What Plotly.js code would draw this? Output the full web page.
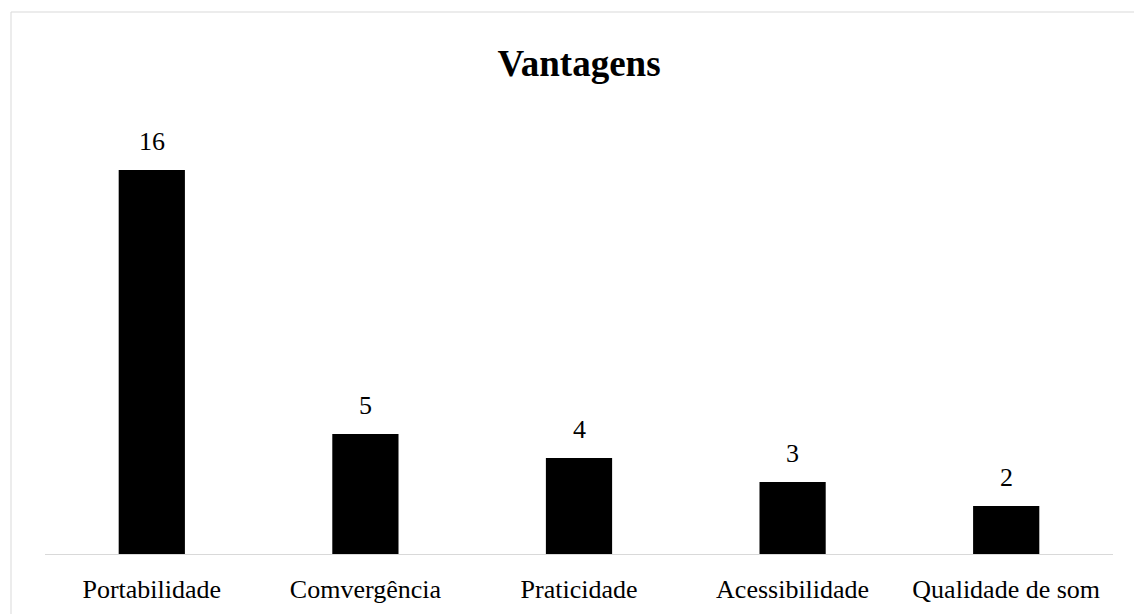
<!DOCTYPE html>
<html>
<head>
<meta charset="utf-8">
<script src="https://cdn.plot.ly/plotly-3.0.1.min.js"></script>
<style>
html,body{margin:0;padding:0;background:#fff;}
#chart{width:1134px;height:614px;}
</style>
</head>
<body>
<div id="chart"></div>
<script>
const categories = ["Portabilidade", "Comvergência", "Praticidade", "Acessibilidade", "Qualidade de som"];
const values = [16, 5, 4, 3, 2];
const chartTitle = "Vantagens";

const serif = "'Liberation Serif', 'Times New Roman', Times, serif";

const trace = {
  type: "bar",
  x: categories,
  y: values,
  marker: {color: "#000000", line: {width: 0}},
  hoverinfo: "skip"
};

const annotations = categories.map((c, i) => ({
  x: c, y: values[i], xref: "x", yref: "y",
  text: String(values[i]),
  showarrow: false,
  yanchor: "bottom",
  yshift: 12,
  font: {family: serif, size: 26, color: "#000"}
}));

const L = 45, R = 21, T = 122, B = 60, W = 1134, H = 614;
const pw = W - L - R, ph = H - T - B;

const layout = {
  width: W, height: H,
  margin: {l: L, r: R, t: T, b: B, pad: 0},
  paper_bgcolor: "#ffffff",
  plot_bgcolor: "#ffffff",
  showlegend: false,
  bargap: 0.69,
  title: {
    text: "<b>" + chartTitle + "</b>",
    font: {family: serif, size: 37, color: "#000"},
    x: 579 / W, xref: "container", xanchor: "center",
    y: 1 - 63 / H, yref: "container", yanchor: "middle"
  },
  xaxis: {
    type: "category",
    showgrid: false,
    showline: true, linecolor: "#d9d9d9", linewidth: 1,
    ticks: "", ticklabelstandoff: 12,
    tickfont: {family: serif, size: 26, color: "#000"},
    zeroline: false, fixedrange: true
  },
  yaxis: {
    range: [0, 18],
    visible: false,
    showgrid: false, zeroline: false, fixedrange: true
  },
  annotations: annotations,
  shapes: [{
    type: "rect", xref: "paper", yref: "paper",
    x0: (11 - L) / pw, x1: (W + 20 - L) / pw,
    y0: (H - B - (H + 20)) / ph, y1: (H - B - 12) / ph,
    line: {color: "#d9d9d9", width: 1},
    fillcolor: "rgba(0,0,0,0)",
    layer: "below"
  }]
};

Plotly.newPlot("chart", [trace], layout, {displayModeBar: false, staticPlot: true});
</script>
</body>
</html>
